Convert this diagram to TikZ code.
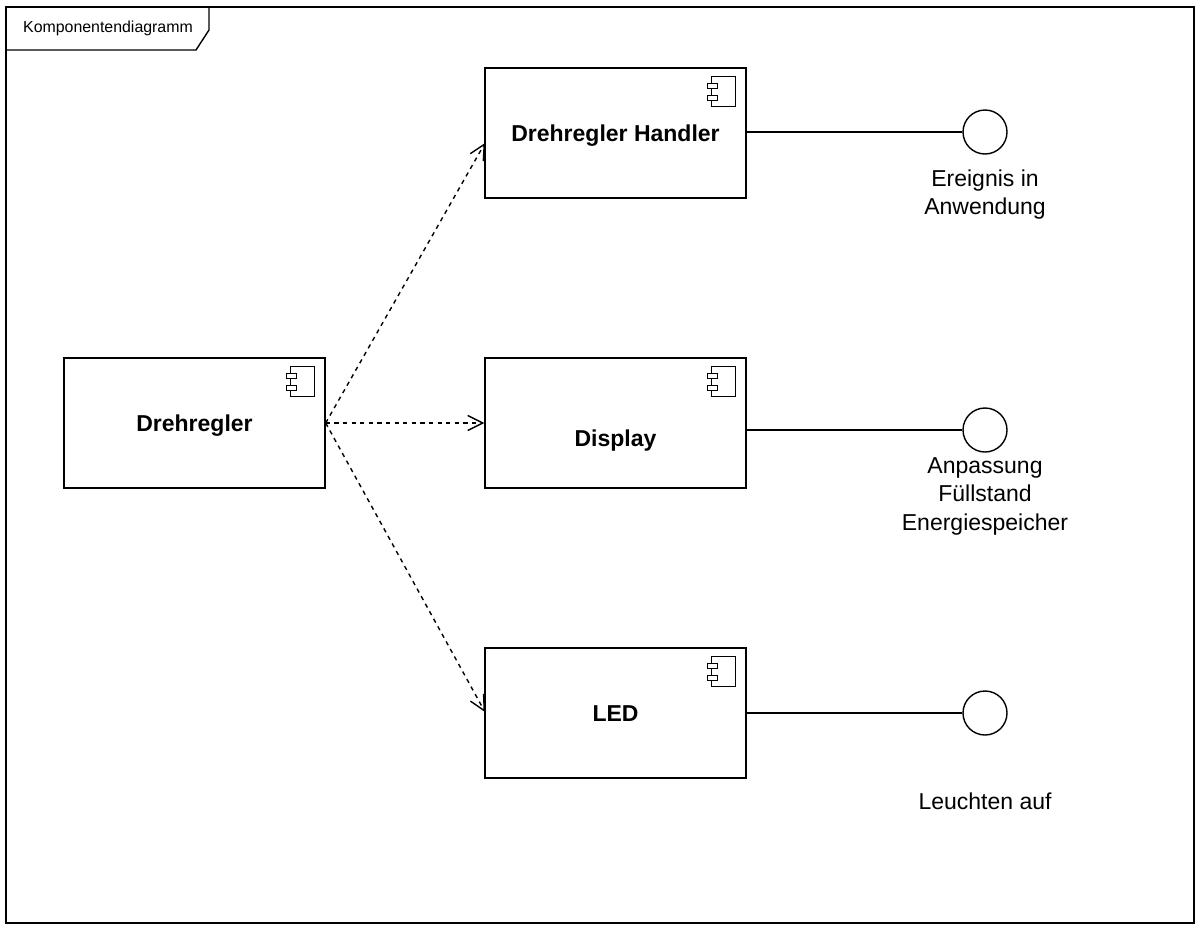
\documentclass[tikz,border=0pt]{standalone}
\usepackage{fontspec}
\setmainfont{Liberation Sans}
\usetikzlibrary{arrows.meta,calc}
\newcommand\compIcon[1]{%
  \draw[icon] ([shift={(-35,9)}]#1.north east) rectangle ([shift={(-11,39)}]#1.north east);
  \draw[icon,fill=white] ([shift={(-39,16)}]#1.north east) rectangle ([shift={(-29,21)}]#1.north east);
  \draw[icon,fill=white] ([shift={(-39,28)}]#1.north east) rectangle ([shift={(-29,33)}]#1.north east);
}
\tikzset{
  comp/.style={draw, line width=1.4pt, minimum width=261pt, minimum height=130pt, inner sep=0pt,
    text height=16pt, text depth=0pt, font=\fontsize{23}{27}\bfseries\selectfont},
  icon/.style={line width=1.3pt},
  iface/.style={draw, circle, line width=1.4pt, minimum size=44pt, inner sep=0pt},
  conn/.style={line width=1.4pt},
  dep/.style={line width=1.4pt, dash pattern=on 4.3pt off 4.3pt, -{Straight Barb[length=15pt,width=15pt,line width=1.4pt]}},
  lbl/.style={align=center, inner sep=0pt, font=\fontsize{23}{28.5}\selectfont},
}
\begin{document}
\begin{tikzpicture}[x=1pt,y=-1pt]
\useasboundingbox (0,0) rectangle (1201,932);
% frame
\draw[line width=1.4pt] (6,7) rectangle (1194,923);
\draw[line width=1.4pt] (6,50) -- (196,50) -- (209,30) -- (209,7);
\node[inner sep=0pt, font=\fontsize{15.9}{19}\selectfont] (title) at (108,28) {Komponentendiagramm};
% components
\node[comp] (dreh) at (194.5,423) {Drehregler};
\node[comp] (hand) at (615.5,133) {Drehregler Handler};
\node[comp] (disp) at (615.5,423) {};
\node[inner sep=0pt, text height=16pt, text depth=0pt, font=\fontsize{23}{27}\bfseries\selectfont] (disptxt) at (615.5,438) {Display};
\node[comp] (led) at (615.5,713) {LED};
\compIcon{dreh}
\compIcon{hand}
\compIcon{disp}
\compIcon{led}
% interfaces
\node[iface] (c1) at (985,132) {};
\node[iface] (c2) at (985,430) {};
\node[iface] (c3) at (985,713) {};
\draw[conn] (c1.west -| hand.east) -- (c1.west);
\draw[conn] (c2.west -| disp.east) -- (c2.west);
\draw[conn] (c3.west -| led.east) -- (c3.west);
\node[lbl] (l1) at (985,194.5) {Ereignis in\\Anwendung};
\node[lbl] (l2) at (985,496) {Anpassung\\Füllstand\\Energiespeicher};
\node[lbl] (l3) at (985,801) {Leuchten auf};
% dependencies
\coordinate (hin) at (485,143);
\coordinate (lin) at (485,712);
\draw[dep] (dreh.east) -- (hin);
\draw[dep] (dreh.east) -- (disp.west);
\draw[dep] (dreh.east) -- (lin);
\end{tikzpicture}
\end{document}
